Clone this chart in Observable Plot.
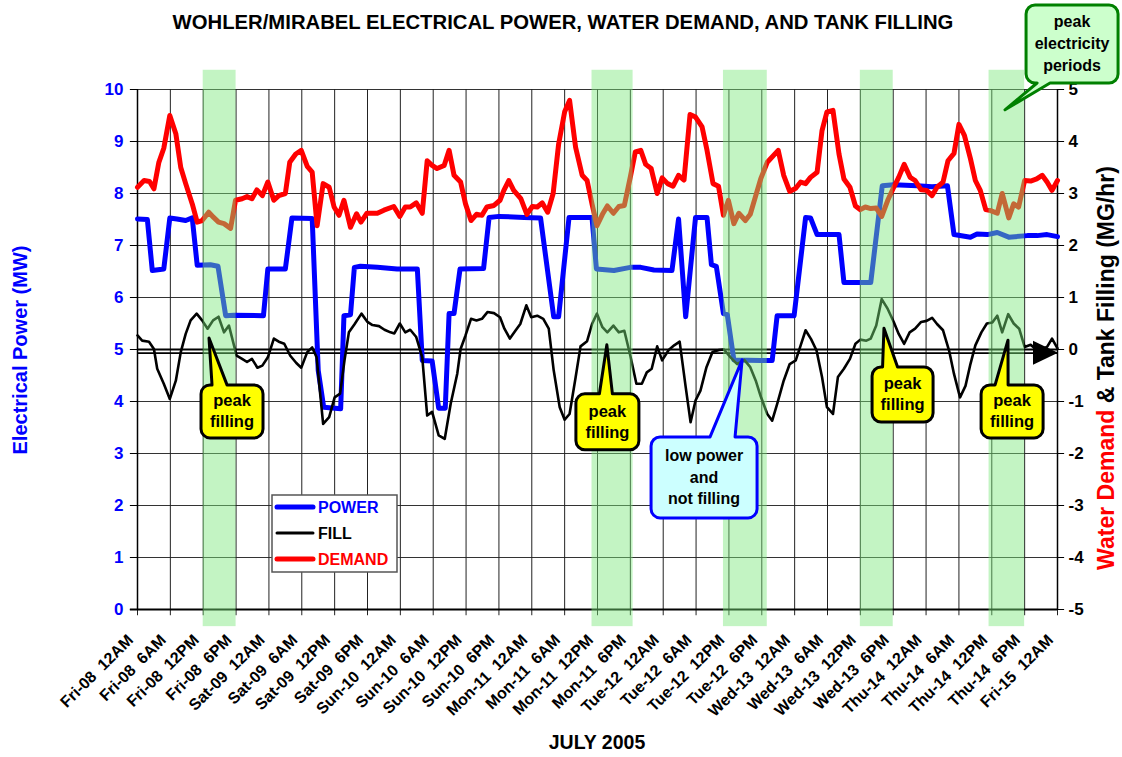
<!DOCTYPE html>
<html><head><meta charset="utf-8">
<script src="https://cdn.jsdelivr.net/npm/d3@7"></script>
<script src="https://cdn.jsdelivr.net/npm/@observablehq/plot@0.6"></script>
<style>
body{margin:0;background:#fff;}
svg{display:block;font-family:"Liberation Sans",Arial,sans-serif;}
text{white-space:pre;}
</style>
</head><body><div id="chart"></div>
<script>
// ---- DATA (hours since Fri-08 12AM) ----
const powerHours = [0,1.8,2.7,4.8,5.9,7.2,8.8,10,10.9,13.3,14.7,16.1,17.6,23.0,23.8,27.0,28.2,31.9,33.0,34.0,37.1,37.7,38.9,39.6,40.7,43.8,47.4,51.1,52.0,53.8,55.0,56.2,56.9,57.8,58.9,63.2,64.2,66.0,70.6,73.6,76.0,76.9,78.8,83.0,83.8,87.0,90.0,91.9,94.3,97.6,98.8,100.1,101.9,104.0,104.8,105.7,107.0,107.7,108.9,113.8,115.9,116.8,119.9,122.0,122.9,124.1,128.1,129.0,133.9,136.0,138.1,142.4,145.1,147.9,149.1,152.1,153.3,155.2,157.0,159.1,162.5,164.3,166.1,168];
const powerMW = [7.51,7.50,6.52,6.55,7.53,7.51,7.48,7.53,6.62,6.63,6.60,5.65,5.66,5.65,6.55,6.55,7.53,7.52,4.60,3.89,3.86,5.65,5.67,6.58,6.60,6.58,6.55,6.55,4.79,4.78,3.87,3.87,5.69,5.69,6.55,6.56,7.54,7.56,7.54,7.53,5.63,5.63,7.54,7.54,6.55,6.52,6.58,6.58,6.53,6.52,7.51,5.63,7.54,7.54,6.63,6.60,5.69,5.67,4.80,4.79,4.79,5.65,5.65,7.54,7.53,7.21,7.21,6.29,6.29,8.15,8.17,8.15,8.13,8.15,7.21,7.16,7.22,7.21,7.25,7.16,7.19,7.19,7.21,7.17];

const fillHours = [0,0.85,2.1,3.0,3.6,4.8,5.9,7.0,7.9,8.8,9.7,10.8,11.8,12.8,13.8,14.8,15.8,16.7,18.1,19.1,20.0,20.9,21.9,22.8,23.8,24.9,25.8,26.8,27.9,29.0,29.9,31.0,31.9,32.7,33.9,35.0,36.0,37.0,37.8,38.6,39.6,40.9,42.0,42.9,44.1,45.1,46.2,46.9,47.9,48.9,49.8,50.9,52.0,52.9,53.8,55.0,56.1,57.2,58.4,59.0,59.9,60.9,61.9,62.9,63.9,65.1,66.2,67.0,68.0,69.0,69.9,71.0,71.9,73.0,74.1,75.1,76.0,77.1,78.0,78.9,80.0,80.9,82.1,83.0,83.9,84.9,85.8,86.9,87.9,88.9,90.0,91.1,92.1,93.0,93.9,94.9,95.8,97.0,98.0,99.0,100.1,101.0,101.9,102.8,103.9,105.0,106.2,107.1,108.3,109.5,110.8,111.9,112.9,113.8,115.0,115.9,116.8,118.0,119.1,120.2,121.1,122.0,123.0,124.0,125.0,125.9,127.0,127.9,129.0,130.1,131.1,132.0,133.1,133.9,134.9,135.9,137.0,138.1,139.0,140.0,141.0,142.0,143.1,144.1,145.1,146.0,147.1,148.2,149.1,150.2,151.2,152.1,153.0,154.1,155.1,156.1,157.0,157.9,159.0,160.0,161.0,162.0,163.1,164.3,166.1,167.0,168];
const fillMGhr = [0.27,0.17,0.15,0.01,-0.37,-0.66,-0.95,-0.60,-0.05,0.30,0.56,0.69,0.56,0.40,0.56,0.63,0.33,0.46,-0.12,-0.18,-0.24,-0.18,-0.35,-0.31,-0.15,0.21,0.15,0.11,-0.12,-0.26,-0.35,-0.05,0.04,-0.15,-1.43,-1.30,-0.92,-0.85,-0.21,0.33,0.48,0.69,0.53,0.47,0.45,0.38,0.33,0.31,0.50,0.33,0.38,0.24,-0.15,-1.27,-1.20,-1.65,-1.72,-1.04,-0.46,0.01,0.27,0.59,0.56,0.59,0.72,0.70,0.62,0.40,0.21,0.36,0.49,0.85,0.62,0.65,0.59,0.40,-0.40,-1.11,-1.35,-1.24,-0.54,0.06,0.16,0.49,0.69,0.43,0.33,0.46,0.33,0.36,-0.12,-0.66,-0.66,-0.44,-0.37,0.06,-0.21,-0.01,0.08,0.15,-0.72,-1.40,-0.98,-0.79,-0.34,-0.05,-0.01,0.00,-0.15,-0.28,-0.20,-0.34,-0.60,-0.90,-1.24,-1.37,-1.05,-0.60,-0.28,-0.21,0.08,0.37,0.20,-0.02,-0.53,-1.11,-1.24,-0.53,-0.37,-0.18,0.11,0.19,0.17,0.21,0.46,0.97,0.78,0.53,0.30,0.11,0.33,0.40,0.53,0.55,0.61,0.49,0.37,-0.02,-0.47,-0.92,-0.70,-0.28,0.08,0.33,0.50,0.52,0.65,0.33,0.68,0.50,0.40,0.05,0.09,-0.02,0.05,0.21,0.02];

const demandHours = [0,1.2,2.2,3.0,3.9,4.8,5.9,7.0,7.9,8.8,10.0,10.9,11.8,13.0,13.9,14.8,15.8,17.0,17.9,19.1,20.0,20.9,21.8,22.8,23.8,24.9,25.8,27.0,27.8,28.9,29.9,31.0,31.9,32.8,33.9,35.0,35.9,36.8,37.7,38.9,40.0,40.8,41.9,43.8,45.0,46.8,47.9,48.9,49.8,50.9,52.0,52.9,53.8,54.7,56.0,56.9,57.8,59.0,59.9,60.9,61.9,62.9,63.8,65.1,66.2,66.9,67.8,68.7,70.0,71.1,72.1,73.0,73.9,74.9,75.9,76.9,78.0,78.9,80.0,81.2,82.1,83.0,83.9,84.9,85.8,86.9,87.9,88.9,90.0,90.9,91.9,92.8,93.8,94.9,95.8,96.8,97.8,98.8,99.8,100.9,101.9,103.1,104.0,105.1,106.1,107.0,107.9,108.9,109.8,111.0,111.9,112.9,113.8,115.0,117.0,118.0,119.1,120.2,121.1,122.0,122.9,124.1,125.0,125.9,127.0,128.1,129.0,130.1,131.1,132.0,132.9,133.9,134.9,135.9,137.0,138.1,139.0,140.0,141.1,142.0,143.1,144.1,145.1,146.0,147.1,148.0,149.1,150.0,151.0,152.1,153.0,153.9,154.9,155.8,157.0,157.9,159.1,160.0,160.9,162.0,163.1,164.2,165.2,166.1,167.0,168];
const demandMGhr = [3.12,3.25,3.23,3.09,3.60,3.87,4.50,4.15,3.50,3.19,2.80,2.45,2.48,2.64,2.54,2.45,2.42,2.33,2.87,2.90,2.94,2.90,3.07,2.96,3.22,2.87,2.96,3.00,3.60,3.76,3.83,3.52,3.41,2.38,3.19,3.12,2.74,2.58,2.87,2.35,2.61,2.45,2.62,2.62,2.68,2.75,2.56,2.74,2.74,2.82,2.62,3.63,3.54,3.48,3.54,3.83,3.35,3.22,2.80,2.48,2.60,2.58,2.74,2.77,2.87,3.06,3.25,3.06,2.90,2.60,2.75,2.74,2.82,2.64,3.00,3.95,4.57,4.79,3.89,3.35,3.25,2.80,2.38,2.60,2.76,2.62,2.75,2.77,3.32,3.80,3.83,3.56,3.48,3.00,3.30,3.19,3.14,3.35,3.26,4.52,4.47,4.28,3.83,3.19,3.14,2.58,2.87,2.42,2.62,2.48,2.60,2.96,3.28,3.60,3.83,3.35,3.04,3.10,3.22,3.19,3.31,3.41,4.21,4.57,4.60,3.76,3.28,3.12,2.76,2.69,2.74,2.71,2.72,2.56,2.87,3.12,3.31,3.56,3.31,3.25,3.07,3.06,2.96,3.12,3.22,3.63,3.77,4.33,4.12,3.67,3.25,3.06,2.69,2.67,2.62,3.00,2.53,2.80,2.74,3.25,3.24,3.28,3.35,3.22,3.06,3.25];

const peakStart = [12, 83, 107, 132, 155.5];
const peakEnd   = [18, 90.5, 115, 138, 162];

const tickHours = [0,6,12,18,24,30,36,42,48,54,60,66,72,78,84,90,96,102,108,114,120,126,132,138,144,150,156,162,168];
const tickLabels = [
  "Fri-08  12AM","Fri-08  6AM","Fri-08  12PM","Fri-08  6PM",
  "Sat-09  12AM","Sat-09  6AM","Sat-09  12PM","Sat-09  6PM",
  "Sun-10  12AM","Sun-10  6AM","Sun-10  12PM","Sun-10  6PM",
  "Mon-11  12AM","Mon-11  6AM","Mon-11  12PM","Mon-11  6PM",
  "Tue-12  12AM","Tue-12  6AM","Tue-12  12PM","Tue-12  6PM",
  "Wed-13  12AM","Wed-13  6AM","Wed-13  12PM","Wed-13  6PM",
  "Thu-14  12AM","Thu-14  6AM","Thu-14  12PM","Thu-14  6PM",
  "Fri-15  12AM"];
const leftTicks = [0,1,2,3,4,5,6,7,8,9,10];
const rightTicks = [-5,-4,-3,-2,-1,0,1,2,3,4,5];
const zeroFillLine = -0.07; // MG/hr reference line with arrow

// ---- build tables ----
const OFFSET = 5; // right axis value + 5 = left axis value
const power = powerHours.map((h,i)=>({h, v: powerMW[i]}));
const fill = fillHours.map((h,i)=>({h, v: fillMGhr[i] + OFFSET}));
const demand = demandHours.map((h,i)=>({h, v: demandMGhr[i] + OFFSET}));
const peaks = peakStart.map((s,i)=>({x1:s, x2:peakEnd[i]}));
const xTicks = tickHours.map((h,i)=>({h, label: tickLabels[i]}));

const BLUE = "#0000ff", RED = "#ff0000";

const plot = Plot.plot({
  width: 1122, height: 757,
  marginTop: 89, marginBottom: 148, marginLeft: 137, marginRight: 65,
  x: {domain: [0, 168], axis: null},
  y: {domain: [0, 10], axis: null},
  style: {fontFamily: "'Liberation Sans', Arial, sans-serif", background: "#fff", overflow: "visible"},
  marks: [
    Plot.ruleY(leftTicks, {y: d => d, x1: 0, x2: 168, stroke: "#333", strokeWidth: 1}),
    Plot.ruleX(tickHours, {x: d => d, y1: -0.12, y2: 10, stroke: "#222", strokeWidth: 1}),
    Plot.ruleY(leftTicks, {y: d => d, x1: -1.3, x2: 0, stroke: "#000"}),
    Plot.ruleY(rightTicks, {y: d => d + OFFSET, x1: 168, x2: 169.3, stroke: "#000"}),
    Plot.ruleX([0, 168], {x: d => d, y1: 0, y2: 10, stroke: "#000", strokeWidth: 1.5}),
    Plot.ruleY([0], {y: d => d, x1: -1.3, x2: 168, stroke: "#000", strokeWidth: 1.8}),
    Plot.ruleY([0 + OFFSET], {y: d => d, x1: 0, x2: 168, stroke: "#000", strokeWidth: 1.8}),
    Plot.ruleY([zeroFillLine + OFFSET], {y: d => d, x1: 0, x2: 168, stroke: "#000", strokeWidth: 1.8}),
    Plot.line(power, {x: "h", y: "v", stroke: BLUE, strokeWidth: 5}),
    Plot.line(fill, {x: "h", y: "v", stroke: "#000", strokeWidth: 2.6}),
    Plot.line(demand, {x: "h", y: "v", stroke: RED, strokeWidth: 5}),
    Plot.rect(peaks, {x1: "x1", x2: "x2", y1: -0.33, y2: 10.37, fill: "#7ae67a", fillOpacity: 0.45}),
    Plot.text(leftTicks, {x: 0, y: d => d, text: d => String(d), textAnchor: "end", dx: -14, fill: BLUE, fontSize: 17, fontWeight: "bold"}),
    Plot.text(rightTicks, {x: 168, y: d => d + OFFSET, text: d => String(d), textAnchor: "start", dx: 11, fill: "#000", fontSize: 17, fontWeight: "bold"}),
    Plot.text(xTicks, {x: "h", y: 0, text: "label", rotate: -45, textAnchor: "end", dx: -7, dy: 28, fill: "#000", fontSize: 16, fontWeight: "bold"})
  ]
});
document.getElementById("chart").appendChild(plot);

const X = plot.scale("x"), Y = plot.scale("y");
const svg = d3.select(plot);

// arrowhead on zero-fill line
{
  const tx = X.apply(168) + 1, ty = Y.apply(zeroFillLine + OFFSET);
  svg.append("path").attr("d", `M${tx},${ty} L${tx-25},${ty-12} L${tx-25},${ty+12} Z`).attr("fill", "#000");
}

// title & axis titles
svg.append("text").attr("x", 563).attr("y", 29).attr("text-anchor", "middle")
  .attr("font-size", 20.3).attr("font-weight", "bold").attr("fill", "#000")
  .text("WOHLER/MIRABEL ELECTRICAL POWER, WATER DEMAND, AND TANK FILLING");
svg.append("text").attr("x", 597).attr("y", 749).attr("text-anchor", "middle")
  .attr("font-size", 19.5).attr("font-weight", "bold").attr("fill", "#000")
  .text("JULY 2005");
svg.append("text").attr("transform", "translate(27,350) rotate(-90)").attr("text-anchor", "middle")
  .attr("font-size", 20).attr("font-weight", "bold").attr("fill", BLUE)
  .text("Electrical Power (MW)");
{
  const t = svg.append("text").attr("transform", "translate(1114,368) rotate(-90)").attr("text-anchor", "middle")
    .attr("font-size", 23).attr("font-weight", "bold");
  t.append("tspan").attr("fill", RED).text("Water Demand");
  t.append("tspan").attr("fill", "#000").text(" & Tank Filling (MG/hr)");
}

// legend
{
  const g = svg.append("g").attr("text-anchor", "start");
  g.append("rect").attr("x", 272).attr("y", 495).attr("width", 125).attr("height", 77)
    .attr("fill", "#fff").attr("stroke", "#555").attr("stroke-width", 1.5);
  const items = [
    {label: "POWER", color: BLUE, w: 5, tc: BLUE, y: 507},
    {label: "FILL", color: "#000", w: 3, tc: "#000", y: 533},
    {label: "DEMAND", color: RED, w: 5, tc: RED, y: 559}
  ];
  for (const it of items) {
    g.append("line").attr("x1", 277).attr("x2", 313).attr("y1", it.y).attr("y2", it.y)
      .attr("stroke", it.color).attr("stroke-width", it.w).attr("stroke-linecap", "round");
    g.append("text").attr("x", 318).attr("y", it.y + 6).attr("text-anchor", "start")
      .attr("font-size", 16).attr("font-weight", "bold")
      .attr("fill", it.tc).text(it.label);
  }
}

// callouts (positions in data coordinates)
const callouts = [
  {lines: ["peak","filling"], h: 17.35, v: 3.80, w: 62, hh: 53, tipH: 13.15, tipV: 5.21, side: "top", base: [-20,-5], fill: "#ffff00", stroke: "#000", fs: 16.5, gap: 21},
  {lines: ["peak","filling"], h: 85.9, v: 3.60, w: 63, hh: 56, tipH: 85.8, tipV: 5.08, side: "top", base: [-8,5], fill: "#ffff00", stroke: "#000", fs: 16.5, gap: 21},
  {lines: ["peak","filling"], h: 139.8, v: 4.125, w: 61, hh: 55, tipH: 136.4, tipV: 5.40, side: "top", base: [-20,-5], fill: "#ffff00", stroke: "#000", fs: 16.5, gap: 21},
  {lines: ["peak","filling"], h: 159.8, v: 3.80, w: 62, hh: 53, tipH: 159.05, tipV: 5.17, side: "top", base: [-17,-4], fill: "#ffff00", stroke: "#000", fs: 16.5, gap: 21},
  {lines: ["low power","and","not filling"], h: 103.55, v: 2.53, w: 106, hh: 81, tipH: 110.5, tipV: 4.79, side: "top", base: [6,31], fill: "#ccffff", stroke: "#0000ff", fs: 16, gap: 21.5},
  {lines: ["peak","electricity","periods"], h: 170.75, v: 10.865, w: 92, hh: 78, tipH: 158.5, tipV: 9.6, side: "bottom", base: [-35,-22], fill: "#ccffcc", stroke: "#008000", fs: 16, gap: 22}
];
for (const c of callouts) {
  const cx = X.apply(c.h), cy = Y.apply(c.v);
  const x0 = cx - c.w/2, x1 = cx + c.w/2, y0 = cy - c.hh/2, y1 = cy + c.hh/2, r = 9;
  const tx = X.apply(c.tipH), ty = Y.apply(c.tipV);
  const b0 = cx + c.base[0], b1 = cx + c.base[1];
  let d = `M${x0+r},${y0}`;
  if (c.side === "top") d += ` L${b0},${y0} L${tx},${ty} L${b1},${y0}`;
  d += ` L${x1-r},${y0} A${r},${r} 0 0 1 ${x1},${y0+r} L${x1},${y1-r} A${r},${r} 0 0 1 ${x1-r},${y1}`;
  if (c.side === "bottom") d += ` L${b1},${y1} L${tx},${ty} L${b0},${y1}`;
  d += ` L${x0+r},${y1} A${r},${r} 0 0 1 ${x0},${y1-r} L${x0},${y0+r} A${r},${r} 0 0 1 ${x0+r},${y0} Z`;
  svg.append("path").attr("d", d).attr("fill", c.fill).attr("stroke", c.stroke)
    .attr("stroke-width", 3).attr("stroke-linejoin", "round");
  const n = c.lines.length;
  c.lines.forEach((s, i) => {
    svg.append("text").attr("x", cx).attr("y", cy + (i - (n-1)/2) * c.gap + 0.32 * c.fs)
      .attr("text-anchor", "middle").attr("font-size", c.fs).attr("font-weight", "bold")
      .attr("fill", "#000").text(s);
  });
}
</script>
</body></html>
